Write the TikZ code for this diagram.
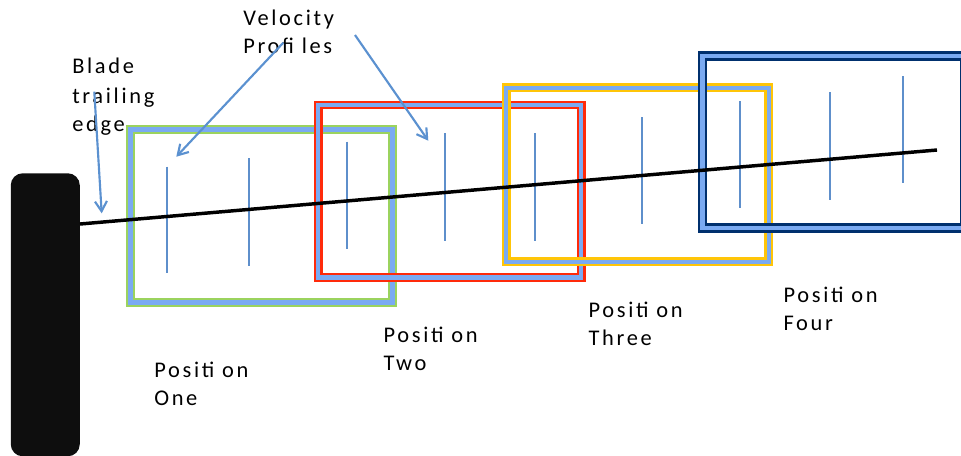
\documentclass[tikz,border=0pt]{standalone}
\usepackage{fontspec}
\setmainfont{Carlito}[LetterSpace=12]
\usetikzlibrary{arrows.meta}
\definecolor{frameblue}{HTML}{7AAAF2}
\definecolor{fgreen}{HTML}{9BD35E}
\definecolor{fred}{HTML}{FF2A0A}
\definecolor{fyellow}{HTML}{FFC508}
\definecolor{fnavy}{HTML}{00306E}
\definecolor{profile}{HTML}{5E8FCB}
\definecolor{arrowblue}{HTML}{5B91D0}
\definecolor{bladeblack}{HTML}{0E0E0E}
\tikzset{
  outerframe/.style={line width=7pt},
  innerframe/.style={line width=3.1pt, draw=frameblue},
  profline/.style={draw=profile, line width=1.3pt},
  chord/.style={draw=black, line width=2.6pt},
  callout/.style={draw=arrowblue, line width=1.6pt, -{Straight Barb[length=7.5pt,width=9pt,line width=1.6pt]}},
  lbl/.style={anchor=base west, inner sep=0pt, font=\fontsize{16.8pt}{21pt}\selectfont},
}
\begin{document}
\begin{tikzpicture}[x=0.75pt,y=-0.75pt]
\useasboundingbox (0,0) rectangle (961,455);
\begin{scope}
\clip (0,0) rectangle (961,455);
% blade
\node[fill=bladeblack, rounded corners=9pt, minimum width=69*0.75pt, minimum height=283*0.75pt, inner sep=0pt, anchor=north west] (blade) at (10.5,173) {};
% boxes
\draw[outerframe, draw=fgreen] (130.5,129.5) rectangle (392.5,302.5);
\draw[innerframe] (130.5,129.5) rectangle (392.5,302.5);
\draw[outerframe, draw=fred, line width=6.6pt] (318.3,105) rectangle (581.2,277.5);
\draw[innerframe] (318.3,105) rectangle (581.2,277.5);
\draw[outerframe, draw=fyellow] (506.2,87.8) rectangle (768.8,261.7);
\draw[innerframe] (506.2,87.8) rectangle (768.8,261.7);
\draw[outerframe, draw=fnavy, line width=7.2pt] (702.5,56.2) rectangle (964.5,228);
\draw[innerframe] (702.5,56.2) rectangle (964.5,228);
\end{scope}
% velocity profiles
\coordinate (p1t) at (167.3,166.7); \coordinate (p1b) at (167.3,273.3);
\coordinate (p2t) at (249.3,158.3); \coordinate (p2b) at (249.3,265.7);
\coordinate (p3t) at (347.3,141.7); \coordinate (p3b) at (347.3,249.3);
\coordinate (p4t) at (445.3,133.3); \coordinate (p4b) at (445.3,240.7);
\coordinate (p5t) at (535.3,133.3); \coordinate (p5b) at (535.3,240.7);
\coordinate (p6t) at (641.7,117.3); \coordinate (p6b) at (641.7,224.3);
\coordinate (p7t) at (739.8,101); \coordinate (p7b) at (739.8,208.3);
\coordinate (p8t) at (829.7,92.3); \coordinate (p8b) at (829.7,200);
\coordinate (p9t) at (903,76); \coordinate (p9b) at (903,183.3);
\foreach \i in {1,...,9} { \draw[profline] (p\i t) -- (p\i b); }
% chord line
\coordinate (chordend) at (937,150);
\draw[chord] (blade.east |- 0,224) -- (chordend);
% labels
\node[lbl] (bl1) at (72,73.3) {Blade};
\node[lbl] (bl2) at (72,103.3) {trailing};
\node[lbl] (bl3) at (72,131.7) {edge};
\node[lbl] (vp1) at (243,25) {Velocity};
\node[lbl] (vp2) at (243,53.3) {Profi les};
\node[lbl] (o1) at (154,377.3) {Positi on};
\node[lbl] (o2) at (154,405) {One};
\node[lbl] (t1) at (383.3,342.7) {Positi on};
\node[lbl] (t2) at (383.3,370) {Two};
\node[lbl] (h1) at (588.3,317.7) {Positi on};
\node[lbl] (h2) at (588.3,345) {Three};
\node[lbl] (f1) at (783.3,302.7) {Positi on};
\node[lbl] (f2) at (783.3,330) {Four};
% callouts
\coordinate (a1s) at (94.3,91.7); \coordinate (a1e) at (101.7,213.3);
\coordinate (a2s) at (283.3,42.7); \coordinate (a2e) at (176.3,156.7);
\coordinate (a3s) at (355,35); \coordinate (a3e) at (428.3,140.7);
\draw[callout] (a1s) -- (a1e);
\draw[callout] (a2s) -- (a2e);
\draw[callout] (a3s) -- (a3e);
\end{tikzpicture}
\end{document}
